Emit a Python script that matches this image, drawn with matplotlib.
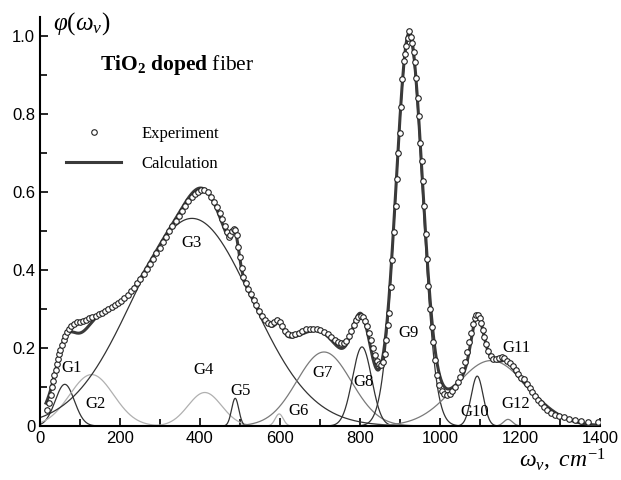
import numpy as np
import matplotlib
matplotlib.use("Agg")
import matplotlib.pyplot as plt
from matplotlib.ticker import MultipleLocator, FuncFormatter

# gaussian components G1..G12 (center, amplitude, sigma)
names = ["G1", "G2", "G3", "G4", "G5", "G6", "G7", "G8", "G9", "G10", "G11", "G12"]
centers = [62, 129, 380, 412, 488, 598, 710, 805, 923, 1093, 1128, 1170]
amps = [0.107, 0.132, 0.533, 0.086, 0.071, 0.031, 0.19, 0.203, 0.995, 0.128, 0.168, 0.017]
sigmas = [24, 55, 150, 42, 9, 10, 68, 24, 33, 15, 90, 11]
colors = ["#333333", "#b0b0b0", "#333333", "#b0b0b0", "#333333", "#b0b0b0",
          "#7a7a7a", "#333333", "#333333", "#333333", "#7a7a7a", "#7a7a7a"]
label_x = [78, 140, 378, 409, 502, 646, 706, 810, 922, 1087, 1192, 1189]
label_y = [0.149, 0.056, 0.47, 0.144, 0.09, 0.038, 0.135, 0.112, 0.238, 0.037, 0.2, 0.056]

# experiment points
exp_x = [18, 23, 27, 30, 33, 36, 39, 42, 45, 48, 51, 55, 59, 63, 67, 72, 78, 85, 92, 99,
         107, 115, 123, 131, 139, 147, 155, 163, 171, 179, 187, 195, 203, 211, 219, 227,
         235, 243, 251, 259, 267, 275, 283, 291, 299, 307, 315, 323, 331, 339, 347, 355,
         363, 371, 379, 387, 395, 403, 411, 419, 427, 435, 443, 450, 456, 462, 467, 472,
         476, 480, 484, 488, 492, 496, 500, 504, 508, 514, 520, 527, 534, 541, 548, 555,
         562, 570, 578, 586, 593, 599, 605, 612, 620, 629, 638, 647, 656, 665, 674, 683,
         692, 701, 710, 719, 728, 737, 745, 752, 759, 766, 772, 778, 784, 790, 796, 802,
         808, 813, 818, 823, 828, 833, 838, 843, 848, 853, 858, 862, 866, 870, 873, 877,
         881, 885, 889, 892, 896, 899, 903, 906, 909, 912, 915, 919, 923, 927, 931, 935,
         938, 941, 944, 947, 951, 954, 958, 961, 964, 967, 971, 975, 979, 983, 988, 993,
         998, 1004, 1010, 1017, 1024, 1031, 1038, 1044, 1050, 1056, 1062, 1067, 1072, 1077,
         1082, 1087, 1091, 1095, 1099, 1103, 1107, 1111, 1116, 1121, 1127, 1133, 1140, 1147,
         1154, 1161, 1168, 1175, 1182, 1189, 1196, 1203, 1210, 1217, 1224, 1231, 1238, 1245,
         1252, 1260, 1268, 1277, 1287, 1298, 1310, 1323, 1337, 1352, 1370, 1396]
exp_y = [0.041, 0.06, 0.08, 0.1, 0.115, 0.13, 0.145, 0.16, 0.172, 0.185, 0.196, 0.208,
         0.22, 0.232, 0.242, 0.25, 0.256, 0.262, 0.266, 0.268, 0.27, 0.273, 0.276, 0.279,
         0.283, 0.287, 0.291, 0.296, 0.3, 0.305, 0.31, 0.316, 0.322, 0.329, 0.337, 0.346,
         0.355, 0.366, 0.377, 0.389, 0.402, 0.416, 0.43, 0.444, 0.458, 0.472, 0.486, 0.5,
         0.514, 0.527, 0.54, 0.553, 0.565, 0.577, 0.587, 0.596, 0.602, 0.606, 0.606, 0.6,
         0.588, 0.575, 0.562, 0.548, 0.532, 0.513, 0.497, 0.484, 0.49, 0.5, 0.505, 0.503,
         0.49, 0.46, 0.435, 0.405, 0.383, 0.366, 0.352, 0.338, 0.324, 0.31, 0.296, 0.282,
         0.272, 0.265, 0.263, 0.266, 0.271, 0.267, 0.256, 0.244, 0.236, 0.233, 0.235, 0.24,
         0.245, 0.248, 0.25, 0.25, 0.249, 0.246, 0.241, 0.235, 0.228, 0.221, 0.215, 0.212,
         0.212, 0.218, 0.23, 0.245, 0.26, 0.272, 0.28, 0.283, 0.279, 0.27, 0.257, 0.24,
         0.22, 0.2, 0.182, 0.167, 0.158, 0.156, 0.165, 0.185, 0.22, 0.26, 0.29, 0.357,
         0.427, 0.497, 0.565, 0.633, 0.7, 0.752, 0.82, 0.89, 0.936, 0.955, 0.975, 0.995,
         1.015, 0.998, 0.983, 0.96, 0.935, 0.893, 0.843, 0.796, 0.727, 0.681, 0.628, 0.564,
         0.492, 0.43, 0.36, 0.3, 0.255, 0.215, 0.17, 0.132, 0.105, 0.09, 0.083, 0.08, 0.083,
         0.09, 0.1, 0.112, 0.127, 0.145, 0.165, 0.19, 0.215, 0.24, 0.262, 0.277, 0.284,
         0.285, 0.278, 0.264, 0.247, 0.229, 0.21, 0.193, 0.18, 0.173, 0.172, 0.174, 0.176,
         0.174, 0.168, 0.161, 0.153, 0.144, 0.134, 0.123, 0.12, 0.109, 0.098, 0.087, 0.077,
         0.067, 0.058, 0.049, 0.041, 0.034, 0.029, 0.026, 0.023, 0.019, 0.016, 0.013, 0.011,
         0.009]

plt.rcParams["mathtext.fontset"] = "custom"
plt.rcParams["mathtext.rm"] = "Liberation Serif"
plt.rcParams["mathtext.it"] = "Liberation Serif:italic"
plt.rcParams["mathtext.bf"] = "Liberation Serif:bold"

fig = plt.figure(figsize=(6.21, 4.8), dpi=100)
ax = fig.add_axes([40 / 621, 54 / 480, 560 / 621, 409 / 480])

xs = np.linspace(0, 1400, 1401)
total = np.zeros_like(xs)
for c, a, s, col in zip(centers, amps, sigmas, colors):
    g = a * np.exp(-(xs - c) ** 2 / (2 * s ** 2))
    total += g
    ax.plot(xs, g, color=col, lw=0.9, zorder=2)

mask = (xs >= 15) & (xs <= 1395)
ax.plot(xs[mask], total[mask], color="#3a3a3a", lw=2.2, zorder=3, label="Calculation")
ax.plot(exp_x, exp_y, ls="none", marker="o", ms=4, mfc="white", mec="#222222",
        mew=0.8, zorder=4, label="Experiment")

for n, lx, ly in zip(names, label_x, label_y):
    ax.text(lx, ly, n, ha="center", va="center", fontsize=12,
            family="Liberation Serif", zorder=5)

ax.text(150, 0.926, r"$\mathbf{TiO_2\ doped}$ fiber", fontsize=15.5,
        family="Liberation Serif", va="center")

h, l = ax.get_legend_handles_labels()
ax.legend(h[::-1], l[::-1], loc="upper left", bbox_to_anchor=(0.02, 0.77),
          frameon=False, handlelength=3.3, handletextpad=1.2, labelspacing=0.85,
          prop={"family": "Liberation Serif", "size": 12})

ax.text(0.023, 0.985, r"$\varphi(\omega_v)$", transform=ax.transAxes,
        fontsize=18, va="center", ha="left")
ax.text(0.855, -0.085, r"$\omega_v,\ cm^{-1}$", transform=ax.transAxes,
        fontsize=17, va="center", ha="left")

ax.set_xlim(0, 1400)
ax.set_ylim(0, 1.05)
ax.xaxis.set_major_locator(MultipleLocator(200))
ax.xaxis.set_minor_locator(MultipleLocator(100))
ax.yaxis.set_major_locator(MultipleLocator(0.2))
ax.yaxis.set_minor_locator(MultipleLocator(0.1))
ax.yaxis.set_major_formatter(FuncFormatter(lambda v, p: "0" if abs(v) < 1e-9 else f"{v:.1f}"))
ax.tick_params(which="both", direction="in", width=1.2, labelsize=12)
ax.tick_params(which="major", length=6)
ax.tick_params(which="minor", length=5)
for lab in ax.get_xticklabels() + ax.get_yticklabels():
    lab.set_family("Liberation Sans")
ax.spines["top"].set_visible(False)
ax.spines["right"].set_visible(False)
ax.spines["left"].set_linewidth(1.5)
ax.spines["bottom"].set_linewidth(1.5)

fig.savefig("out.png", dpi=100)
